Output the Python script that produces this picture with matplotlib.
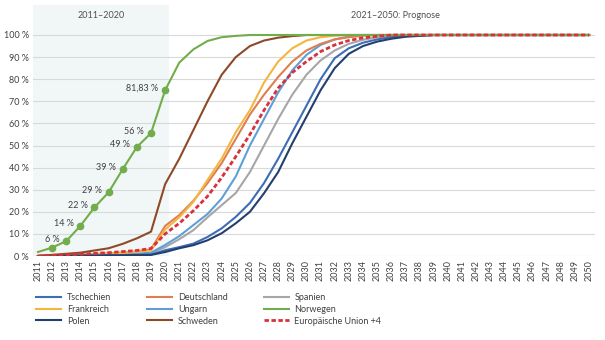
import matplotlib
matplotlib.use("Agg")
import matplotlib.pyplot as plt
import numpy as np

plt.rcParams['font.family'] = ['Lato', 'DejaVu Sans']

years = list(range(2011, 2051))

def pad(vals):
    return vals + [100] * (len(years) - len(vals))

tschechien  = pad([0, 0.1, 0.2, 0.2, 0.3, 0.3, 0.4, 0.5, 0.6, 2.6, 4, 5.6, 8.6, 12.5, 17.7, 24, 33, 44, 56, 68, 80, 89.5, 94, 96.5, 98, 99, 99.5, 99.8])
deutschland = pad([0, 0.2, 0.4, 0.6, 0.9, 1.2, 1.6, 2.1, 3, 13.6, 18.5, 25, 33, 42, 53, 64, 73, 81, 88, 93, 96, 98, 99, 99.7])
spanien     = pad([0, 0.1, 0.2, 0.3, 0.4, 0.5, 0.7, 0.9, 1.2, 4, 7.6, 11.7, 17.5, 23, 28.5, 38, 50, 62, 73, 82, 88.5, 93, 96, 97.8, 99, 99.6])
frankreich  = pad([0, 0.2, 0.3, 0.5, 0.8, 1.1, 1.4, 1.9, 2.5, 12, 17.5, 24.5, 34.4, 44, 56, 66, 78.5, 88, 94, 97.5, 99, 99.7])
ungarn      = pad([0, 0.1, 0.2, 0.3, 0.4, 0.6, 0.8, 1.1, 1.5, 5, 9, 14, 19, 26, 36, 50, 62, 74, 84, 91, 95.5, 98, 99.3])
norwegen    = pad([1.8, 3.8, 6.7, 13.6, 22, 28.8, 39.3, 49.3, 55.6, 75, 87.5, 93.5, 97.3, 99, 99.6])
polen       = pad([0, 0.1, 0.1, 0.2, 0.2, 0.3, 0.3, 0.4, 0.5, 1.8, 3.5, 4.9, 7.1, 10.3, 14.8, 20, 28.4, 38, 51, 63, 75, 85, 91.5, 95, 97, 98.3, 99.2, 99.6])
schweden    = pad([0, 0.5, 1, 1.5, 2.5, 3.5, 5.5, 8, 11, 32.5, 44, 57, 70, 82, 90, 95, 97.5, 98.8, 99.5])
eu4         = pad([0, 0.3, 0.5, 0.8, 1.2, 1.5, 2, 2.5, 3.4, 10, 14.8, 20.5, 27, 35.5, 45, 55, 66, 76, 83, 88, 92.5, 95.5, 97.5, 98.7, 99.4])

norway_labels = ["", "", "6 %", "14 %", "22 %", "29 %", "39 %", "49 %", "56 %", "81,83 %"]

yticks = list(range(0, 101, 10))
ytick_labels = [f"{v} %" for v in yticks]

series = [
    ("Tschechien", tschechien, "#3d6db5", "-"),
    ("Frankreich", frankreich, "#f5b53f", "-"),
    ("Polen", polen, "#233f6e", "-"),
    ("Deutschland", deutschland, "#df7f4f", "-"),
    ("Ungarn", ungarn, "#5f9fd8", "-"),
    ("Schweden", schweden, "#8e4a26", "-"),
    ("Spanien", spanien, "#a6a6a6", "-"),
    ("Norwegen", norwegen, "#72ad4b", "-"),
    ("Europäische Union +4", eu4, "#d9313b", "--"),
]

fig = plt.figure(figsize=(6.05, 3.4), dpi=100)
ax = fig.add_axes([33/605, 1 - 256/340, (595 - 33)/605, (256 - 5)/340])
ymax = 100 * (256 - 5) / (256 - 35)
ax.set_ylim(0, ymax)
ax.set_xlim(2010.65, 2050.42)

ax.axvspan(2010.65, 2020.3, color="#f1f6f7", zorder=0, lw=0)
for y in yticks:
    ax.axhline(y, color="#d9d9d9", lw=0.8, zorder=1)

handles = []
draw_order = ["Spanien", "Ungarn", "Deutschland", "Frankreich", "Tschechien", "Polen", "Schweden", "Norwegen", "Europäische Union +4"]
for name, vals, col, ls in series:
    if ls == "--":
        ln, = ax.plot(years, vals, color=col, lw=2.0, dashes=(1.6, 0.9), label=name, zorder=5)
    else:
        ln, = ax.plot(years, vals, color=col, lw=1.5, label=name, zorder=3 + draw_order.index(name) * 0.1)
    handles.append(ln)

# Norway markers 2012-2020
ax.plot(years[1:10], norwegen[1:10], linestyle="none", marker="o", ms=4.5, color="#72ad4b", zorder=6)
for i in range(10):
    if norway_labels[i]:
        ax.annotate(norway_labels[i], (years[i], norwegen[i]), xytext=(-5, 1.5),
                    textcoords="offset points", ha="right", va="center",
                    fontsize=6.5, color="#404040", zorder=7)

ax.text((2010.65 + 2020.3) / 2, 100 * (256 - 15) / (256 - 35), "2011–2020", ha="center", va="center",
        fontsize=6.5, color="#505050")
ax.text(2036.3, 100 * (256 - 15) / (256 - 35), "2021–2050: Prognose", ha="center", va="center",
        fontsize=6.5, color="#505050")

ax.set_yticks(yticks)
ax.set_yticklabels(ytick_labels, fontsize=6.5, color="#404040")
ax.set_xticks(years)
ax.set_xticklabels([str(y) for y in years], rotation=90, fontsize=6.5, color="#404040")
ax.tick_params(length=0, pad=3)
for s in ax.spines.values():
    s.set_visible(False)

fig.legend(handles=handles, loc="upper left", bbox_to_anchor=(28/605, 1 - 285/340), ncol=3,
           frameon=False, fontsize=6.5, handlelength=2.8, handletextpad=0.6,
           columnspacing=4.0, labelspacing=0.3, labelcolor="#404040")

fig.savefig("out.png", dpi=100)
